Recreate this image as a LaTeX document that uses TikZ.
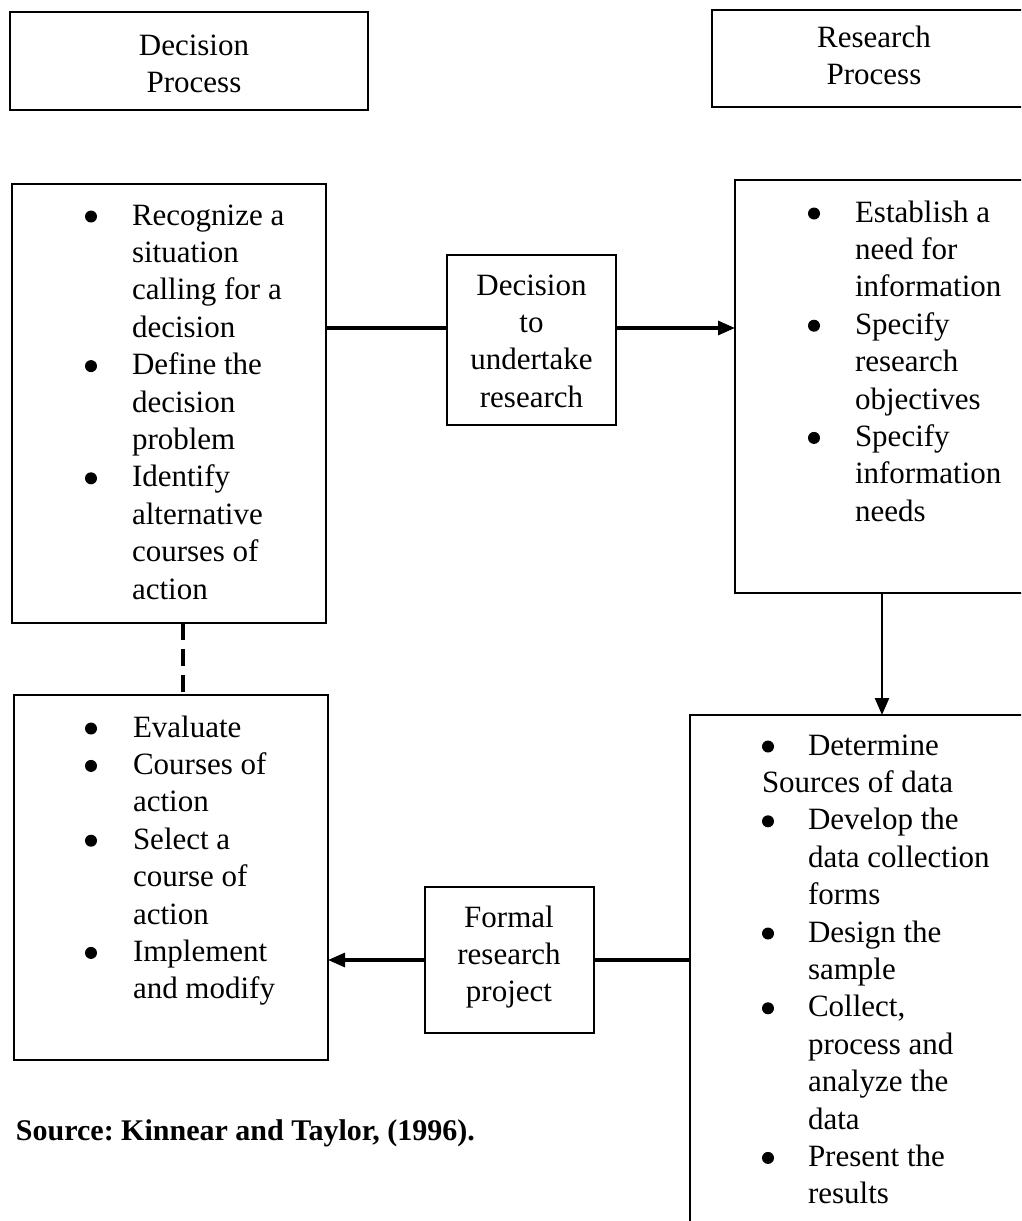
\documentclass[tikz,border=0pt]{standalone}
\usepackage{fontspec}
\setmainfont{Liberation Serif}
\usetikzlibrary{arrows.meta}
\frenchspacing
% round list bullet, sitting a little above the baseline
\newcommand{\bul}{\tikz[baseline=0pt,x=1pt,y=1pt]\fill (5.5,8.5) circle[radius=6];}
\tikzset{
  box/.style={draw, line width=1.6pt, inner sep=0pt, outer sep=0pt},
  txt/.style={inner sep=0pt, outer sep=0pt, font=\fontsize{31}{37.4}\selectfont},
  link/.style={line width=3.2pt},
  tip/.style={-{Triangle[length=17pt,width=14pt]}},
}
\begin{document}
\begin{tikzpicture}[x=1pt,y=-1pt]
\useasboundingbox (0,0) rectangle (1021,1221);
\clip (0,0) rectangle (1021,1221);

% frames
\node[box, minimum width=358pt, minimum height=98pt]  (dp)  at (189,61) {};
\node[box, minimum width=328pt, minimum height=97pt]  (rp)  at (876,58.5) {};
\node[box, minimum width=314pt, minimum height=439pt] (lt)  at (169,403.5) {};
\node[box, minimum width=169pt, minimum height=170pt] (dec) at (531.5,340) {};
\node[box, minimum width=310pt, minimum height=413pt] (rt)  at (890,386.5) {};
\node[box, minimum width=314pt, minimum height=365pt] (lb)  at (171,877.5) {};
\node[box, minimum width=169pt, minimum height=146pt] (frm) at (509.5,960) {};
\node[box, minimum width=355pt, minimum height=525pt] (rb)  at (867.5,977.5) {};

% headings and middle boxes
\node[txt, anchor=base] (dpt) at (194,55)
  {\begin{tabular}[t]{@{}c@{}}Decision\\Process\end{tabular}};
\node[txt, anchor=base] (rpt) at (874,47)
  {\begin{tabular}[t]{@{}c@{}}Research\\Process\end{tabular}};
\node[txt, anchor=base] (dect) at (531.5,295)
  {\begin{tabular}[t]{@{}c@{}}Decision\\to\\undertake\\research\end{tabular}};
\node[txt, anchor=base] (frmt) at (509,927)
  {\begin{tabular}[t]{@{}c@{}}Formal\\research\\project\end{tabular}};

% bullet lists
\node[txt, anchor=base west] (ltt) at (85,225)
  {\begin{tabular}[t]{@{}p{47pt}@{}l@{}}
  \bul & Recognize a\\
  & situation\\
  & calling for a\\
  & decision\\
  \bul & Define the\\
  & decision\\
  & problem\\
  \bul & Identify\\
  & alternative\\
  & courses of\\
  & action
  \end{tabular}};
\node[txt, anchor=base west] (rtt) at (808,222)
  {\begin{tabular}[t]{@{}p{47pt}@{}l@{}}
  \bul & Establish a\\
  & need for\\
  & information\\
  \bul & Specify\\
  & research\\
  & objectives\\
  \bul & Specify\\
  & information\\
  & needs
  \end{tabular}};
\node[txt, anchor=base west] (rbt) at (762,755)
  {\begin{tabular}[t]{@{}p{46pt}@{}l@{}}
  \bul & Determine\\
  \multicolumn{2}{@{}l@{}}{Sources of data}\\
  \bul & Develop the\\
  & data collection\\
  & forms\\
  \bul & Design the\\
  & sample\\
  \bul & Collect,\\
  & process and\\
  & analyze the\\
  & data\\
  \bul & Present the\\
  & results
  \end{tabular}};
\node[txt, anchor=base west] (lbt) at (85,737)
  {\begin{tabular}[t]{@{}p{48pt}@{}l@{}}
  \bul & Evaluate\\
  \bul & Courses of\\
  & action\\
  \bul & Select a\\
  & course of\\
  & action\\
  \bul & Implement\\
  & and modify
  \end{tabular}};

\node[txt, font=\fontsize{30}{36}\selectfont\bfseries, anchor=base west] (src) at (16,1140)
  {Source: Kinnear and Taylor, (1996).};

% connectors
\coordinate (r1) at (0,328);
\draw[link] (lt.east |- r1) -- (dec.west |- r1);
\draw[link, tip] (dec.east |- r1) -- (rt.west |- r1);
\coordinate (c2) at (882,0);
\draw[line width=2.5pt, tip] (rt.south -| c2) -- (rb.north -| c2);
\coordinate (r3) at (0,960);
\draw[link] (rb.west |- r3) -- (frm.east |- r3);
\draw[link, tip] (frm.west |- r3) -- (lb.east |- r3);
\coordinate (c4) at (183,0);
\draw[link, dash pattern=on 17pt off 9pt] (lt.south -| c4) -- (lb.north -| c4);
\end{tikzpicture}
\end{document}
